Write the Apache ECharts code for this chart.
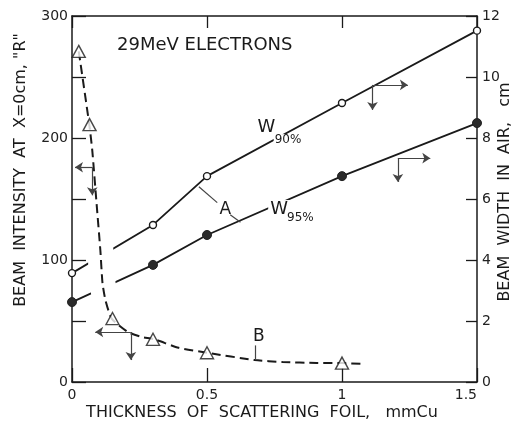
<!DOCTYPE html>
<html><head><meta charset="utf-8">
<script src="https://cdn.jsdelivr.net/npm/echarts@6/dist/echarts.min.js"></script>
<style>html,body{margin:0;padding:0;background:#fff}#c{width:517px;height:425px}</style>
</head><body><div id="c"></div>
<script>
// ---- data ----
const thickness = [0, 0.3, 0.5, 1.0, 1.5];          // mmCu
const w90 = [3.57, 5.15, 6.75, 9.15, 11.52];        // beam width W90%, cm (right axis)
const w95 = [2.62, 3.84, 4.82, 6.75, 8.49];         // beam width W95%, cm (right axis)
const triX = [0.025, 0.065, 0.15, 0.3, 0.5, 1.0];   // intensity points (B)
const triY = [271, 211, 52, 35, 24, 15.5];          // "R" (left axis)
const curveX = [0.025, 0.064, 0.075, 0.09, 0.105, 0.113, 0.124, 0.147, 0.207, 0.256, 0.305, 0.395, 0.5, 0.677, 0.78, 0.906, 1.0, 1.075];
const curveY = [271, 211, 190, 149, 108, 81, 67, 52, 41, 37, 35, 28, 24, 18, 16.4, 15.6, 15.5, 14.8];
const xTickLabels = ['0', '0.5', '1', '1.5'];
const leftTickLabels = ['0', '100', '200', '300'];
const rightTickLabels = ['0', '2', '4', '6', '8', '10', '12'];

const FONT = 'DejaVu Sans';
const INK = '#1a1a1a';
const pairs = (xs, ys) => xs.map((x, i) => [x, ys[i]]);
const curve = pairs(curveX, curveY);

const arrowLine = {color: '#444', width: 1.2, type: 'solid'};
const txt = (coord, text, size, bg, pad) => ({
  coord: coord, symbol: 'circle', symbolSize: 1,
  itemStyle: {color: 'rgba(0,0,0,0)'},
  label: {show: true, position: 'inside', formatter: text, fontSize: size,
          fontFamily: FONT, color: INK, backgroundColor: bg ? '#fff' : 'transparent', padding: pad || [0, 2]}
});

const chart = echarts.init(document.getElementById('c'), null, {renderer: 'canvas'});
chart.setOption({
  animation: false,
  backgroundColor: '#fff',
  grid: {left: 72, right: 40, top: 16, bottom: 43, containLabel: false, outerBoundsMode: 'none'},
  xAxis: [{
    type: 'value', position: 'bottom', min: 0, max: 1.5, interval: 0.5,
    axisLine: {show: true, onZero: false, lineStyle: {color: INK, width: 1.5}},
    axisTick: {show: true, inside: true, length: 14, lineStyle: {color: INK, width: 1.3}},
    axisLabel: {margin: 6, fontSize: 14, fontFamily: FONT, color: '#222', alignMaxLabel: 'right',
      formatter: v => xTickLabels[Math.round(v / 0.5)]},
    splitLine: {show: false}
  }, {
    type: 'value', position: 'top', min: 0, max: 1.5, interval: 0.5,
    axisLine: {show: true, onZero: false, lineStyle: {color: INK, width: 1.5}},
    axisTick: {show: true, inside: true, length: 12, lineStyle: {color: INK, width: 1.3}},
    axisLabel: {show: false}, splitLine: {show: false}
  }],
  yAxis: [{
    type: 'value', position: 'left', min: 0, max: 300, interval: 50,
    axisLine: {show: true, onZero: false, lineStyle: {color: INK, width: 1.5}},
    axisTick: {show: true, inside: true, length: 14, lineStyle: {color: INK, width: 1.3}},
    axisLabel: {margin: 4, fontSize: 14, fontFamily: FONT, color: '#222',
      formatter: v => (v % 100 === 0 ? leftTickLabels[v / 100] : '')},
    splitLine: {show: false}
  }, {
    type: 'value', position: 'right', min: 0, max: 12, interval: 2,
    axisLine: {show: true, onZero: false, lineStyle: {color: INK, width: 1.5}},
    axisTick: {show: true, inside: true, length: 11, lineStyle: {color: INK, width: 1.3}},
    axisLabel: {margin: 5, fontSize: 14, fontFamily: FONT, color: '#222',
      formatter: v => rightTickLabels[v / 2]},
    splitLine: {show: false}
  }],
  series: [
    { // W90%
      name: 'W90%', type: 'line', xAxisIndex: 0, yAxisIndex: 1, z: 2,
      data: pairs(thickness, w90),
      symbol: 'circle', symbolSize: 7, showSymbol: true,
      lineStyle: {color: INK, width: 1.8},
      itemStyle: {color: '#fff', borderColor: INK, borderWidth: 1.4},
      markLine: {silent: true, symbol: ['none', 'arrow'], symbolSize: 8, lineStyle: arrowLine,
        label: {show: false}, animation: false,
        data: [
          [{coord: [1.113, 9.74]}, {coord: [1.244, 9.74]}],
          [{coord: [1.113, 9.74]}, {coord: [1.113, 8.92]}]
        ]},
      markPoint: {silent: true, animation: false, data: [
        txt([0.72, 8.36], 'W', 18, true),
        txt([0.8, 7.93], '90%', 12, true, [0, 1])
      ]}
    },
    { // W95%
      name: 'W95%', type: 'line', xAxisIndex: 0, yAxisIndex: 1, z: 2,
      data: pairs(thickness, w95),
      symbol: 'circle', symbolSize: 9, showSymbol: true,
      lineStyle: {color: INK, width: 1.8},
      itemStyle: {color: '#2a2a2a', borderColor: '#222', borderWidth: 1},
      markLine: {silent: true, symbol: ['none', 'arrow'], symbolSize: 8, lineStyle: arrowLine,
        label: {show: false}, animation: false,
        data: [
          [{coord: [1.207, 7.34]}, {coord: [1.327, 7.34]}],
          [{coord: [1.207, 7.34]}, {coord: [1.207, 6.56]}]
        ]},
      markPoint: {silent: true, animation: false, data: [
        txt([0.767, 5.67], 'W', 18, true),
        txt([0.846, 5.38], '95%', 12, true, [0, 1])
      ]}
    },
    { // white halo that breaks the W lines where the dashed curve crosses
      name: 'halo', type: 'line', xAxisIndex: 0, yAxisIndex: 0, z: 3, silent: true,
      data: curve.slice(3, 7), symbol: 'none', smooth: 0.2,
      lineStyle: {color: '#fff', width: 26, cap: 'butt'}
    },
    { // dashed curve B
      name: 'B', type: 'line', xAxisIndex: 0, yAxisIndex: 0, z: 4,
      data: curve, symbol: 'none', smooth: 0.2,
      lineStyle: {color: INK, width: 2, type: [9, 5]},
      markLine: {silent: true, symbol: ['none', 'arrow'], symbolSize: 8, lineStyle: arrowLine,
        label: {show: false}, animation: false,
        data: [
          [{coord: [0.075, 176]}, {coord: [0.011, 176]}],
          [{coord: [0.075, 176]}, {coord: [0.075, 153]}],
          [{coord: [0.218, 41]}, {coord: [0.086, 41]}],
          [{coord: [0.218, 41]}, {coord: [0.218, 18]}],
          [{coord: [0.47, 160], symbol: 'none'}, {coord: [0.538, 147], symbol: 'none'}],
          [{coord: [0.586, 137], symbol: 'none'}, {coord: [0.624, 131], symbol: 'none'}],
          [{coord: [0.677, 30], symbol: 'none'}, {coord: [0.677, 18], symbol: 'none'}]
        ]},
      markPoint: {silent: true, animation: false, data: [
        txt([0.568, 141], 'A', 17, false),
        txt([0.692, 37], 'B', 17, false)
      ]}
    },
    { // triangles
      name: 'intensity', type: 'scatter', xAxisIndex: 0, yAxisIndex: 0, z: 5,
      data: pairs(triX, triY), symbol: 'triangle', symbolSize: [13, 12],
      itemStyle: {color: '#fff', borderColor: INK, borderWidth: 1.4}
    }
  ],
  graphic: [
    {type: 'text', x: 117, y: 45, silent: true,
     style: {text: '29MeV ELECTRONS', fontSize: 18, fontFamily: FONT, fill: INK, align: 'left', verticalAlign: 'middle'}},
    {type: 'text', x: 262, y: 413, silent: true,
     style: {text: 'THICKNESS  OF  SCATTERING  FOIL,   mmCu', fontSize: 16, fontFamily: FONT, fill: INK, align: 'center', verticalAlign: 'middle'}},
    {type: 'text', x: 21, y: 170, rotation: Math.PI / 2, silent: true,
     style: {text: 'BEAM  INTENSITY  AT  X=0cm, "R"', fontSize: 16, fontFamily: FONT, fill: INK, align: 'center', verticalAlign: 'middle'}},
    {type: 'text', x: 505, y: 192, rotation: Math.PI / 2, silent: true,
     style: {text: 'BEAM  WIDTH  IN  AIR,   cm', fontSize: 16, fontFamily: FONT, fill: INK, align: 'center', verticalAlign: 'middle'}}
  ]
});
</script>
</body></html>
